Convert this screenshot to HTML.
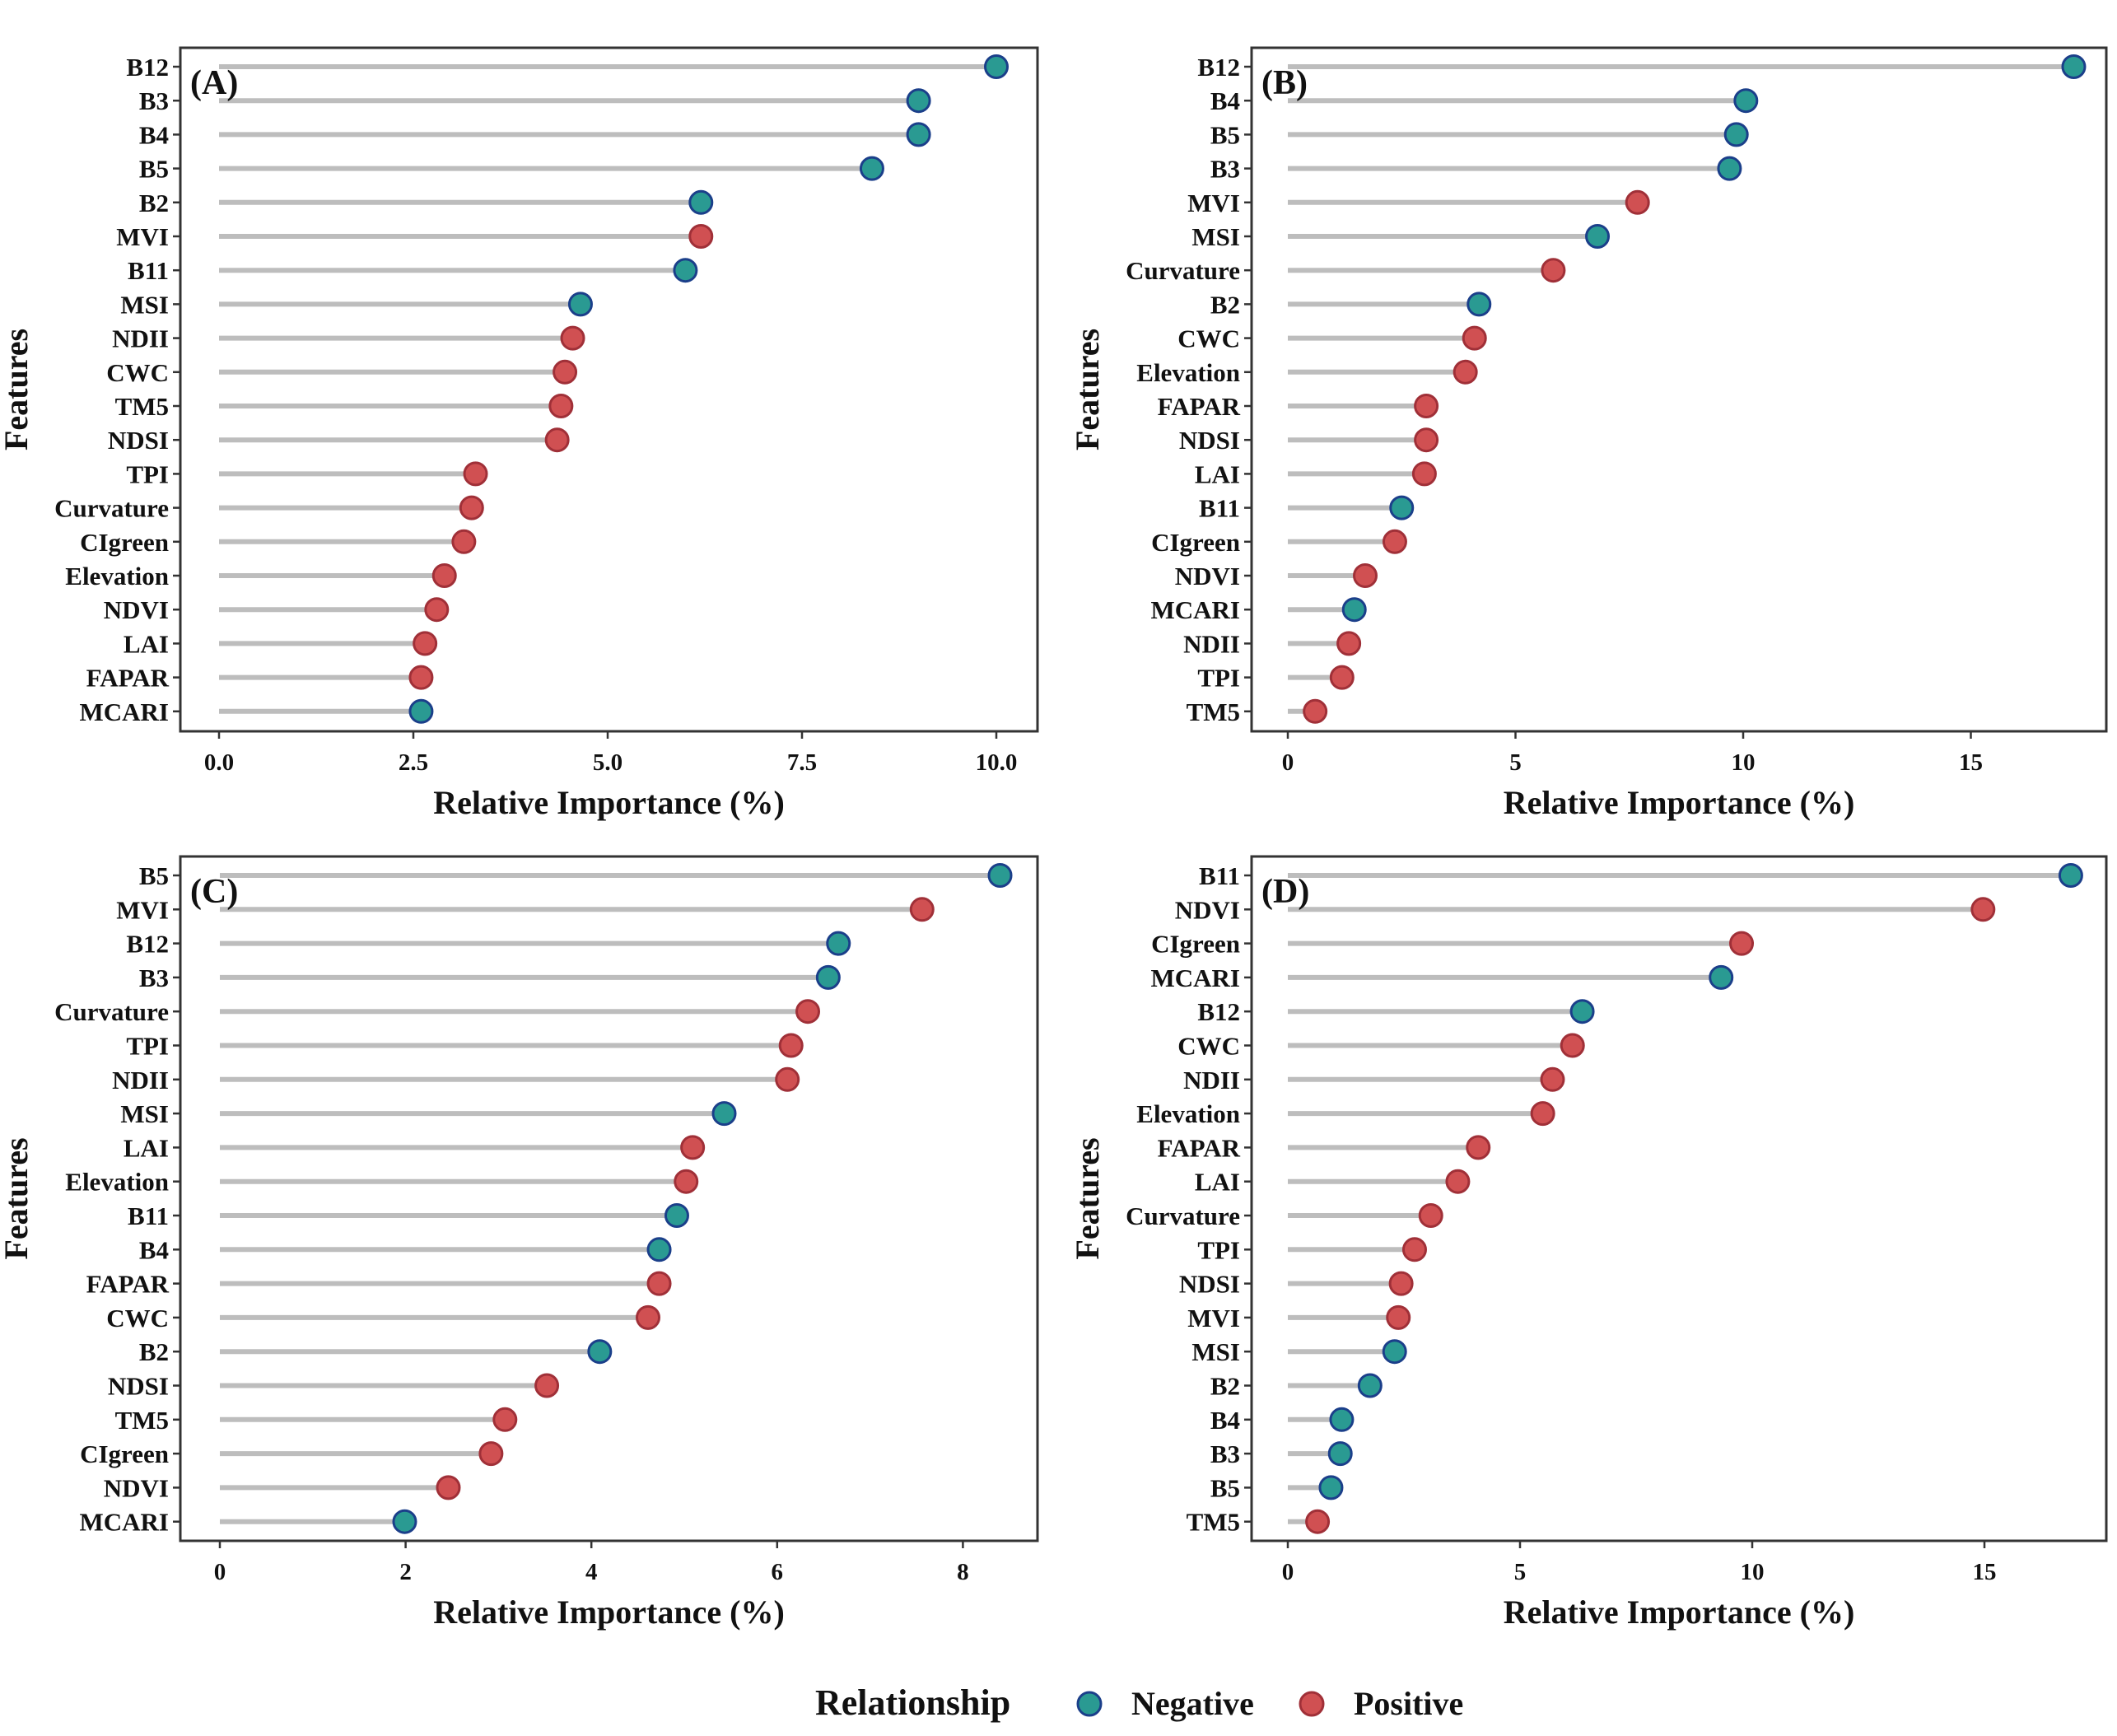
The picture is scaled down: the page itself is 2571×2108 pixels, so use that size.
<!DOCTYPE html>
<html><head><meta charset="utf-8"><style>
html,body{margin:0;padding:0;background:#fff}
svg{display:block}
text{font-family:"Liberation Serif",serif;font-weight:bold;fill:#111}
</style></head><body>
<svg id="chart" width="2571" height="2108" viewBox="0 0 2571 2108" xmlns="http://www.w3.org/2000/svg">
<g id="panels"></g>
<g>
<text x="990" y="2082" font-size="44">Relationship</text>
<circle cx="1323" cy="2069" r="14" fill="#2a9a92" stroke="#1b3f8a" stroke-width="3"/>
<text x="1374" y="2082" font-size="40">Negative</text>
<circle cx="1593" cy="2069" r="14" fill="#d05052" stroke="#a03038" stroke-width="3"/>
<text x="1644" y="2082" font-size="40">Positive</text>
</g>
</svg>
<script>
const featuresA=["B12","B3","B4","B5","B2","MVI","B11","MSI","NDII","CWC","TM5","NDSI","TPI","Curvature","CIgreen","Elevation","NDVI","LAI","FAPAR","MCARI"];
const valuesA=[10.0,9.0,9.0,8.4,6.2,6.2,6.0,4.65,4.55,4.45,4.4,4.35,3.3,3.25,3.15,2.9,2.8,2.65,2.6,2.6];
const signA=["N","N","N","N","N","P","N","N","P","P","P","P","P","P","P","P","P","P","P","N"];
const ticksA=["0.0","2.5","5.0","7.5","10.0"];
const featuresB=["B12","B4","B5","B3","MVI","MSI","Curvature","B2","CWC","Elevation","FAPAR","NDSI","LAI","B11","CIgreen","NDVI","MCARI","NDII","TPI","TM5"];
const valuesB=[17.26,10.06,9.85,9.7,7.68,6.8,5.83,4.2,4.1,3.9,3.04,3.04,3.0,2.5,2.35,1.7,1.46,1.34,1.19,0.6];
const signB=["N","N","N","N","P","N","P","N","P","P","P","P","P","N","P","P","N","P","P","P"];
const ticksB=["0","5","10","15"];
const featuresC=["B5","MVI","B12","B3","Curvature","TPI","NDII","MSI","LAI","Elevation","B11","B4","FAPAR","CWC","B2","NDSI","TM5","CIgreen","NDVI","MCARI"];
const valuesC=[8.4,7.56,6.66,6.55,6.33,6.15,6.11,5.43,5.09,5.02,4.92,4.73,4.73,4.61,4.09,3.52,3.07,2.92,2.46,1.99];
const signC=["N","P","N","N","P","P","P","N","P","P","N","N","P","P","N","P","P","P","P","N"];
const ticksC=["0","2","4","6","8"];
const featuresD=["B11","NDVI","CIgreen","MCARI","B12","CWC","NDII","Elevation","FAPAR","LAI","Curvature","TPI","NDSI","MVI","MSI","B2","B4","B3","B5","TM5"];
const valuesD=[16.86,14.97,9.77,9.33,6.34,6.13,5.7,5.49,4.1,3.66,3.08,2.73,2.44,2.38,2.3,1.77,1.16,1.13,0.93,0.64];
const signD=["N","P","P","N","N","P","P","P","P","P","P","P","P","P","N","N","N","N","N","P"];
const ticksD=["0","5","10","15"];

const NS="http://www.w3.org/2000/svg";
function mk(tag,attrs,parent){const e=document.createElementNS(NS,tag);for(const k in attrs)e.setAttribute(k,attrs[k]);parent.appendChild(e);return e;}
const root=document.getElementById('panels');
const panels=[
 {id:"a",label:"(A)",f:featuresA,v:valuesA,s:signA,t:ticksA,box:[219,58,1260,888],x0:266,ppu:94.4,y0:81,dy:41.2},
 {id:"b",label:"(B)",f:featuresB,v:valuesB,s:signB,t:ticksB,box:[1520,58,2558,888],x0:1564,ppu:55.3,y0:81,dy:41.2},
 {id:"c",label:"(C)",f:featuresC,v:valuesC,s:signC,t:ticksC,box:[219,1040,1260,1871],x0:267,ppu:112.8,y0:1063,dy:41.3},
 {id:"d",label:"(D)",f:featuresD,v:valuesD,s:signD,t:ticksD,box:[1520,1040,2558,1871],x0:1564,ppu:56.4,y0:1063,dy:41.3}
];
panels.forEach(p=>{
 const g=mk('g',{},root);
 
 
 const [l,t,r,b]=p.box;
 const xs=v=>p.x0+v*p.ppu;
 const ys=i=>p.y0+i*p.dy;
 const frame=mk('rect',{x:l,y:t,width:r-l,height:b-t,fill:'none',stroke:'#333','stroke-width':3},g);
 
 
 p.f.forEach((name,i)=>{
  const y=ys(i);
  mk('line',{x1:l-9,x2:l,y1:y,y2:y,stroke:'#333','stroke-width':2.5},g);
  const lab=mk('text',{x:l-14,y:y+11,'font-size':31,'text-anchor':'end'},g);
  lab.textContent=name;
  
  
  const seg=mk('line',{x1:xs(0),x2:xs(p.v[i]),y1:y,y2:y,stroke:'#bdbdbd','stroke-width':6},g);
  
  
 });
 p.f.forEach((name,i)=>{
  const neg=p.s[i]==="N";
  const c=mk('circle',{cx:xs(p.v[i]),cy:ys(i),r:13.5,fill:neg?'#2a9a92':'#d05052',stroke:neg?'#1b3f8a':'#a03038','stroke-width':3},g);
  
  
 });
 p.t.forEach(tk=>{
  const x=xs(parseFloat(tk));
  mk('line',{x1:x,x2:x,y1:b,y2:b+9,stroke:'#333','stroke-width':2.5},g);
  const tl=mk('text',{x:x,y:b+47,'font-size':29,'text-anchor':'middle'},g);
  tl.textContent=tk;
  
  
 });
 const xt=mk('text',{x:(l+r)/2,y:b+100,'font-size':40,'text-anchor':'middle'},g);
 xt.textContent='Relative Importance (%)';
 
 
 const cy=(t+b)/2;
 const yt=mk('text',{x:0,y:0,'font-size':40,'text-anchor':'middle',transform:`translate(${l-186},${cy}) rotate(-90)`},g);
 yt.textContent='Features';
 
 
 const pl=mk('text',{x:l+12,y:t+56,'font-size':42},g);
 pl.textContent=p.label;
 
 
});
</script>
</body></html>
